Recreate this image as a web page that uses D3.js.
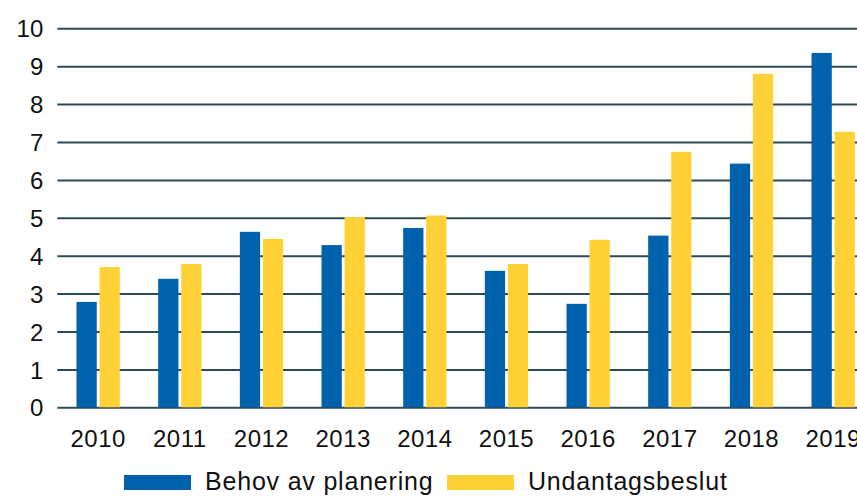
<!DOCTYPE html>
<html>
<head>
<meta charset="utf-8">
<script src="https://cdn.jsdelivr.net/npm/d3@7"></script>
<style>
  body { margin: 0; background: #fff; }
  svg { display: block; font-family: "Liberation Sans", Arial, sans-serif; }
</style>
</head>
<body>
<svg width="857" height="496"></svg>
<script>
'use strict';

var years = ['2010', '2011', '2012', '2013', '2014', '2015', '2016', '2017', '2018', '2019'];
var behov = [2.78, 3.39, 4.63, 4.28, 4.73, 3.6, 2.73, 4.53, 6.43, 9.35];
var undantag = [3.7, 3.78, 4.44, 5.02, 5.06, 3.78, 4.42, 6.74, 8.8, 7.27];
var seriesNames = ['Behov av planering', 'Undantagsbeslut'];
var colors = ['#0061ac', '#fed236'];
var yTicks = [0, 1, 2, 3, 4, 5, 6, 7, 8, 9, 10];

var svg = d3.select('svg');

// plot runs a little past the right edge, like the cropped original
var x = d3.scaleBand()
    .domain(years)
    .range([57.3, 874])
    .paddingInner(0.47)
    .paddingOuter(0.235);

var xSub = d3.scaleBand()
    .domain([0, 1])
    .range([0, x.bandwidth()])
    .paddingInner(0.12);

var y = d3.scaleLinear()
    .domain([0, 10])
    .range([407.3, 28.3]);

// gridlines + y labels
var yAxis = d3.axisLeft(y)
    .tickValues(yTicks)
    .tickSize(-(874 - 57.3))
    .tickPadding(14)
    .tickFormat(d3.format('d'));

var gy = svg.append('g')
    .attr('transform', 'translate(57.3,0)')
    .call(yAxis);
gy.select('.domain').remove();
gy.selectAll('.tick line')
    .attr('stroke', '#2e4a56')
    .attr('stroke-width', 2);
gy.selectAll('.tick text')
    .attr('fill', '#111')
    .attr('font-size', '24px')
    .attr('dy', '0.36em');

// bars
var data = years.map(function (yr, i) {
    return { year: yr, values: [behov[i], undantag[i]] };
});

svg.append('g')
    .selectAll('g')
    .data(data)
    .enter()
    .append('g')
    .attr('transform', function (d) { return 'translate(' + x(d.year) + ',0)'; })
    .selectAll('rect')
    .data(function (d) { return d.values; })
    .enter()
    .append('rect')
    .attr('x', function (d, i) { return xSub(i); })
    .attr('y', function (d) { return y(d); })
    .attr('width', xSub.bandwidth())
    .attr('height', function (d) { return y(0) - y(d); })
    .attr('fill', function (d, i) { return colors[i]; });

// x labels
var xAxis = d3.axisBottom(x).tickSize(0).tickPadding(23);
var gx = svg.append('g')
    .attr('transform', 'translate(0,' + y(0) + ')')
    .call(xAxis);
gx.select('.domain').remove();
gx.selectAll('.tick text')
    .attr('fill', '#111')
    .attr('font-size', '24px')
    .attr('letter-spacing', '0.5px');

// legend
var legX = [124, 447];
seriesNames.forEach(function (name, i) {
    var g = svg.append('g').attr('transform', 'translate(' + legX[i] + ',475)');
    g.append('rect')
        .attr('width', 67)
        .attr('height', 15)
        .attr('fill', colors[i]);
    g.append('text')
        .attr('x', 81)
        .attr('y', 15.3)
        .attr('font-size', '25px')
        .attr('letter-spacing', '0.8px')
        .attr('fill', '#111')
        .text(name);
});
</script>
</body>
</html>
